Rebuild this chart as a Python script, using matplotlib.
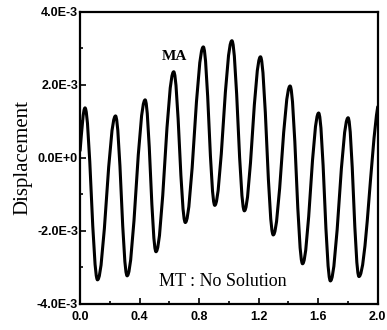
import matplotlib
matplotlib.use("Agg")
import matplotlib.pyplot as plt
from matplotlib.path import Path
from matplotlib.patches import PathPatch

# extrema
peak_x = [0.033, 0.238, 0.437, 0.629, 0.828, 1.020, 1.212, 1.411, 1.603, 1.801]
peak_y = [1.37e-3, 1.15e-3, 1.59e-3, 2.36e-3, 3.04e-3, 3.21e-3, 2.77e-3, 1.97e-3, 1.23e-3, 1.10e-3]
trough_x = [0.117, 0.316, 0.510, 0.707, 0.905, 1.104, 1.298, 1.495, 1.682, 1.874]
trough_y = [-3.34e-3, -3.23e-3, -2.57e-3, -1.77e-3, -1.30e-3, -1.45e-3, -2.11e-3, -2.90e-3, -3.37e-3, -3.25e-3]
start_pt = (0.0, 0.2e-3)
end_pt = (2.0, 1.4e-3)

yticks = [-4e-3, -2e-3, 0.0, 2e-3, 4e-3]
ytick_labels = ["-4.0E-3", "-2.0E-3", "0.0E+0", "2.0E-3", "4.0E-3"]
xticks = [0.0, 0.4, 0.8, 1.2, 1.6, 2.0]
xtick_labels = ["0.0", "0.4", "0.8", "1.2", "1.6", "2.0"]

pts = sorted(list(zip(peak_x, peak_y)) + list(zip(trough_x, trough_y)))
pts = [start_pt] + pts + [end_pt]

# smooth path through the extrema with cubic bezier pieces (flat tangents at extrema)
verts = [pts[0]]
codes = [Path.MOVETO]
n = len(pts)
for i in range(n - 1):
    x0, y0 = pts[i]
    x1, y1 = pts[i + 1]
    d = 0.363 * (x1 - x0)
    c1 = (x0 + d, y0)
    c2 = (x1 - d, y1)
    if i == 0:
        c1 = (x0 + d, y0 + 0.5 * (y1 - y0))
    if i == n - 2:
        c2 = (x1 - d, y1 - 0.25 * (y1 - y0))
    verts += [c1, c2, (x1, y1)]
    codes += [Path.CURVE4] * 3

fig = plt.figure(figsize=(3.87, 3.30), dpi=100)
ax = fig.add_axes([0.207, 0.079, 0.769, 0.885])

ax.add_patch(PathPatch(Path(verts, codes), fill=False, lw=2.2, color="black",
                       capstyle="round", joinstyle="round"))

ax.set_xlim(0, 2.0)
ax.set_ylim(-4e-3, 4e-3)
ax.set_xticks(xticks)
ax.set_xticklabels(xtick_labels)
ax.set_yticks(yticks)
ax.set_yticklabels(ytick_labels)
ax.set_xticks([0.2, 0.6, 1.0, 1.4, 1.8], minor=True)
ax.set_yticks([-3e-3, -1e-3, 1e-3, 3e-3], minor=True)
ax.tick_params(which="both", direction="in", width=1.2, colors="black")
ax.tick_params(which="major", length=4)
ax.tick_params(axis="y", which="major", pad=1.5)
ax.tick_params(axis="x", which="major", pad=5)
ax.tick_params(which="minor", length=2.5)
for lab in ax.get_xticklabels() + ax.get_yticklabels():
    lab.set_family("Liberation Sans")
    lab.set_fontweight("bold")
    lab.set_fontsize(9)
for s in ax.spines.values():
    s.set_linewidth(1.6)

ax.set_ylabel("Displacement", family="Liberation Serif", fontsize=15, labelpad=3)
ax.text(0.635, 2.77e-3, "MA", family="Liberation Serif", fontweight="bold",
        fontsize=11, ha="center", va="center")
ax.text(0.957, -3.38e-3, "MT : No Solution", family="Liberation Serif",
        fontsize=13, ha="center", va="center")

fig.savefig("out.png", dpi=100)
